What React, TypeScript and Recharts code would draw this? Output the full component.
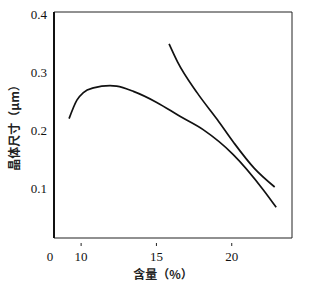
import React from 'react';
import { LineChart, Line, XAxis, YAxis } from 'recharts';

const lowerX = [9.2, 9.72, 10.15, 10.82, 11.92, 12.36, 13.47, 15.02, 16.56, 18.1, 20.1, 22.1, 22.95];
const lowerY = [0.221, 0.253, 0.266, 0.274, 0.278, 0.277, 0.268, 0.249, 0.225, 0.202, 0.159, 0.098, 0.068];
const upperX = [15.84, 16.4, 17.72, 19.05, 20.15, 21.47, 22.85];
const upperY = [0.35, 0.319, 0.265, 0.219, 0.179, 0.136, 0.103];
const xTicks = [8.2, 10, 15, 20];
const xTickLabels = ['0', '10', '15', '20'];
const yTicks = [0.1, 0.2, 0.3, 0.4];
const xDomain = [8.2, 24];
const yDomain = [0.015, 0.405];

const lowerData = lowerX.map((x, i) => ({ x, y: lowerY[i] }));
const upperData = upperX.map((x, i) => ({ x, y: upperY[i] }));

const serifFamily = 'Liberation Serif';
const cjkStyle = { fontFamily: '"Noto Sans CJK SC", sans-serif', fontSize: 12, fontWeight: 700, fill: '#222' };

const XTick = (props: any) => {
  const { x, y, payload, index } = props;
  const label = xTickLabels[index] ?? String(payload.value);
  const isBreak = index === 0;
  return (
    <g>
      {!isBreak && <line x1={x} x2={x} y1={y} y2={y - 3} stroke="#222" strokeWidth={1} />}
      <text x={isBreak ? x - 4 : x} y={y + 15} textAnchor="middle" fill="#111" fontFamily={serifFamily} fontSize={13}>
        {label}
      </text>
    </g>
  );
};

const YTick = (props: any) => {
  const { x, y, payload } = props;
  return (
    <text x={x} y={y + 4} textAnchor="end" fill="#111" fontFamily={serifFamily} fontSize={13}>
      {Number(payload.value).toFixed(1)}
    </text>
  );
};

export default function App() {
  return (
    <div style={{ position: 'absolute', left: 0, top: 0, width: 310, height: 283, background: '#fff' }}>
      <LineChart width={310} height={283} margin={{ top: 11, right: 17, bottom: 0, left: 0 }}>
        <XAxis
          xAxisId="main"
          dataKey="x"
          type="number"
          domain={xDomain}
          ticks={xTicks}
          allowDataOverflow
          height={45}
          tickLine={false}
          axisLine={{ stroke: '#222', strokeWidth: 1.2 }}
          tick={<XTick />}
          interval={0}
          label={{ value: '含量（%）', position: 'insideBottom', offset: 4, dx: -10, style: cjkStyle }}
        />
        <XAxis
          xAxisId="top"
          orientation="top"
          dataKey="x"
          type="number"
          domain={xDomain}
          allowDataOverflow
          height={1}
          tick={false}
          tickLine={false}
          axisLine={{ stroke: '#222', strokeWidth: 1 }}
        />
        <YAxis
          yAxisId="main"
          type="number"
          domain={yDomain}
          ticks={yTicks}
          allowDataOverflow
          width={54}
          tickLine={false}
          tickSize={0}
          tickMargin={7}
          axisLine={{ stroke: '#111', strokeWidth: 2 }}
          tick={<YTick />}
          interval={0}
          label={{ value: '晶体尺寸（μm）', angle: -90, position: 'center', dx: -12, style: cjkStyle }}
        />
        <YAxis
          yAxisId="right"
          orientation="right"
          type="number"
          domain={yDomain}
          allowDataOverflow
          width={1}
          tick={false}
          tickLine={false}
          axisLine={{ stroke: '#222', strokeWidth: 1 }}
        />
        <Line xAxisId="main" yAxisId="main" data={lowerData} dataKey="y" type="monotone" stroke="#111" strokeWidth={1.7} dot={false} isAnimationActive={false} />
        <Line xAxisId="top" yAxisId="right" data={upperData} dataKey="y" type="monotone" stroke="#111" strokeWidth={1.7} dot={false} isAnimationActive={false} />
      </LineChart>
    </div>
  );
}
